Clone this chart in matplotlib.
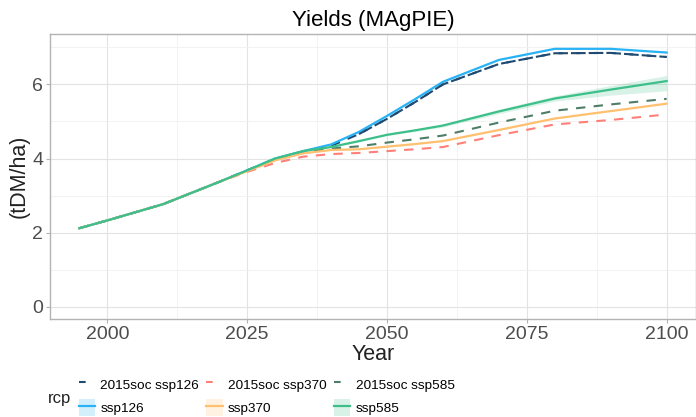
"""
Crop yields under the MAgPIE scenarios, 1995-2100.
"""
import matplotlib.pyplot as plt
from matplotlib.lines import Line2D
from matplotlib.patches import Patch

plt.rcParams["font.family"] = ["Liberation Sans", "DejaVu Sans"]

years = [1995, 2000, 2005, 2010, 2015, 2020, 2025, 2030, 2035, 2040,
         2045, 2050, 2055, 2060, 2070, 2080, 2090, 2100]

# solid runs (mean) with ribbon bounds
ssp126 = [2.12, 2.33, 2.55, 2.77, 3.07, 3.37, 3.68, 4.00, 4.20, 4.38,
          4.72, 5.15, 5.60, 6.07, 6.66, 6.96, 6.96, 6.86]
ssp126_lo = [v - 0.01 for v in ssp126]
ssp126_hi = [v + 0.01 for v in ssp126]
ssp370 = [2.12, 2.33, 2.55, 2.77, 3.07, 3.37, 3.66, 3.95, 4.14, 4.23,
          4.25, 4.32, 4.39, 4.47, 4.77, 5.08, 5.28, 5.48]
ssp370_lo = [v - 0.01 for v in ssp370]
ssp370_hi = [v + 0.01 for v in ssp370]
ssp585 = [2.12, 2.33, 2.55, 2.77, 3.07, 3.37, 3.68, 4.00, 4.20, 4.31,
          4.47, 4.64, 4.76, 4.89, 5.27, 5.62, 5.86, 6.09]
ssp585_lo = [2.11, 2.32, 2.54, 2.76, 3.06, 3.36, 3.67, 3.99, 4.19, 4.30,
             4.45, 4.62, 4.73, 4.85, 5.21, 5.55, 5.71, 5.83]
ssp585_hi = [2.13, 2.34, 2.56, 2.78, 3.08, 3.38, 3.69, 4.01, 4.21, 4.32,
             4.49, 4.66, 4.79, 4.93, 5.33, 5.69, 5.97, 6.24]

# 2015soc runs
soc_ssp126 = [2.12, 2.33, 2.55, 2.77, 3.07, 3.37, 3.68, 3.99, 4.18, 4.34,
              4.66, 5.07, 5.52, 6.00, 6.55, 6.84, 6.85, 6.74]
soc_ssp370 = [2.12, 2.33, 2.55, 2.77, 3.07, 3.37, 3.64, 3.88, 4.05, 4.12,
              4.15, 4.20, 4.25, 4.31, 4.63, 4.92, 5.04, 5.19]
soc_ssp585 = [2.12, 2.33, 2.55, 2.77, 3.07, 3.37, 3.68, 3.99, 4.17, 4.27,
              4.33, 4.43, 4.52, 4.62, 4.97, 5.29, 5.46, 5.61]

c126, c370, c585 = "#29B3F4", "#FFC070", "#3DBF8A"
d126, d370, d585 = "#1F4A72", "#FF8078", "#4E7D68"
dash = (0, (4.5, 4))

fig = plt.figure(figsize=(6.96, 4.17), dpi=100)
ax = fig.add_axes([50 / 696, 1 - 319 / 417, 646 / 696, 285 / 417])

for lo, hi, col in [(ssp126_lo, ssp126_hi, c126), (ssp370_lo, ssp370_hi, c370),
                    (ssp585_lo, ssp585_hi, c585)]:
    ax.fill_between(years, lo, hi, color=col, alpha=0.2, lw=0, zorder=2)

ax.plot(years, soc_ssp126, color=d126, lw=1.5, ls=dash, zorder=3)
ax.plot(years, soc_ssp370, color=d370, lw=1.5, ls=dash, zorder=3)
ax.plot(years, soc_ssp585, color=d585, lw=1.5, ls=dash, zorder=3)
ax.plot(years, ssp126, color=c126, lw=1.6, zorder=4)
ax.plot(years, ssp370, color=c370, lw=1.6, zorder=4)
ax.plot(years, ssp585, color=c585, lw=1.6, zorder=4)
# dashed 2015soc ssp126 sits on top of its solid twin
ax.plot(years[10:], soc_ssp126[10:], color=d126, lw=1.5, ls=dash, zorder=5)

ax.set_xlim(1989.75, 2105.25)
ax.set_ylim(-0.33, 7.36)
ax.set_xticks([2000, 2025, 2050, 2075, 2100])
ax.set_yticks([0, 2, 4, 6])
ax.set_xticks([2012.5, 2037.5, 2062.5, 2087.5], minor=True)
ax.set_yticks([1, 3, 5, 7], minor=True)
ax.grid(True, which="major", color="#E3E3E3", lw=0.8)
ax.grid(True, which="minor", color="#F0F0F0", lw=0.6)
ax.set_axisbelow(True)
for sp in ax.spines.values():
    sp.set_color("#B3B3B3")
    sp.set_linewidth(1.0)
ax.tick_params(which="major", length=3, color="#B3B3B3", labelsize=14,
               labelcolor="#4D4D4D", pad=2)
ax.tick_params(which="minor", length=0)

ax.set_xlabel("Year", fontsize=15.5, color="#222222", labelpad=1)
ax.set_ylabel("(tDM/ha)", fontsize=15.5, color="#222222", labelpad=2)
ax.set_title("Yields (MAgPIE)", fontsize=16, pad=6)

short_dash = (0, (3.2, 20))
handles = [
    Line2D([], [], color=d126, lw=1.5, ls=short_dash),
    (Patch(facecolor=c126, alpha=0.2, lw=0), Line2D([], [], color=c126, lw=1.6)),
    Line2D([], [], color=d370, lw=1.5, ls=short_dash),
    (Patch(facecolor=c370, alpha=0.2, lw=0), Line2D([], [], color=c370, lw=1.6)),
    Line2D([], [], color=d585, lw=1.5, ls=short_dash),
    (Patch(facecolor=c585, alpha=0.2, lw=0), Line2D([], [], color=c585, lw=1.6)),
]
labels = ["2015soc ssp126", "ssp126", "2015soc ssp370", "ssp370",
          "2015soc ssp585", "ssp585"]
fig.legend(handles, labels, ncol=3, frameon=False, fontsize=9.7,
           loc="center left", bbox_to_anchor=(72 / 696, 1 - 396 / 417),
           handlelength=1.2, handleheight=1.55, handletextpad=0.4,
           columnspacing=0.55, labelspacing=0.5, borderpad=0)
fig.text(48 / 696, 1 - 398 / 417, "rcp", fontsize=12, color="#222222",
         ha="left", va="center")

fig.savefig("out.png", dpi=100)
